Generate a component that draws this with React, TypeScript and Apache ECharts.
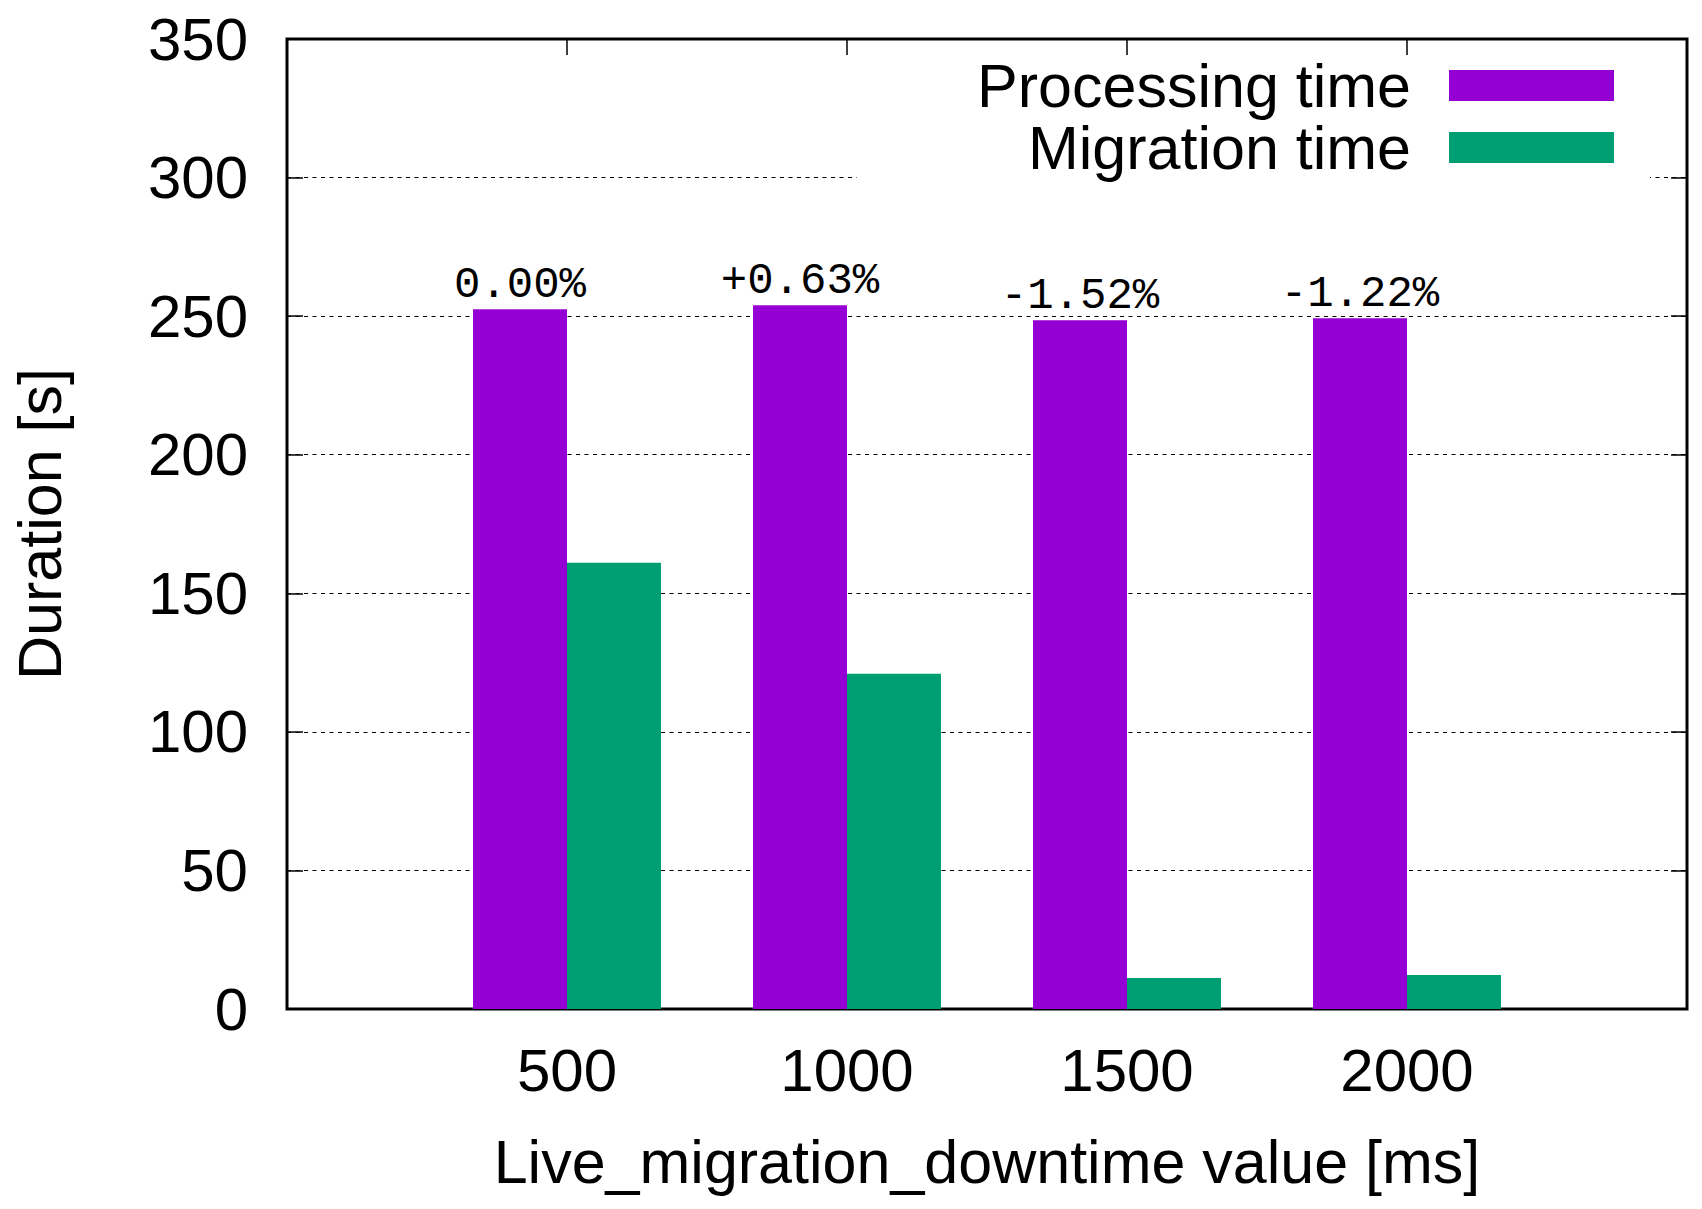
import React, { useEffect, useRef } from "react";
import * as echarts from "echarts";

const downtimeValues = [500, 1000, 1500, 2000];
const xTickValues = [500, 1000, 1500, 2000];
const processingTime = [252.5, 253.9, 248.5, 249.2];
const migrationTime = [161.0, 121.0, 11.2, 12.3];
const changeLabels = ["0.00%", "+0.63%", "-1.52%", "-1.22%"];
const seriesNames = ["Processing time", "Migration time"];
const seriesColors = ["#9400D3", "#009E73"];
const xAxisTitle = "Live_migration_downtime value [ms]";
const yAxisTitle = "Duration [s]";

const SANS = "'Liberation Sans', Arial, Helvetica, sans-serif";
const MONO = "'Liberation Mono', 'DejaVu Sans Mono', monospace";

export default function App() {
  const ref = useRef<HTMLDivElement>(null);

  useEffect(() => {
    if (!ref.current) return;
    const chart = echarts.init(ref.current, null, { renderer: "svg" });

    const tickStyle = { color: "#000", width: 1.5 };
    const hiddenLine = { show: false, onZero: false };

    const option: any = {
      animation: false,
      backgroundColor: "#fff",
      textStyle: { fontFamily: SANS },
      grid: {
        left: 287,
        right: 15,
        top: 39,
        bottom: 200,
        show: true,
        borderColor: "#000",
        borderWidth: 3,
        backgroundColor: "transparent",
      },
      legend: {
        orient: "vertical",
        align: "right",
        right: 52,
        top: 55,
        padding: [0, 36, 8, 120],
        backgroundColor: "#fff",
        itemWidth: 165,
        itemHeight: 31,
        itemGap: 1,
        icon: "rect",
        selectedMode: false,
        data: seriesNames,
        textStyle: {
          fontFamily: SANS,
          fontSize: 61,
          lineHeight: 60,
          color: "#000",
          padding: [0, 33, 0, 0],
        },
      },
      xAxis: [
        {
          type: "value",
          position: "bottom",
          min: 0,
          max: 2500,
          interval: 500,
          name: xAxisTitle,
          nameLocation: "middle",
          nameGap: 123,
          nameTextStyle: { fontFamily: SANS, fontSize: 61, color: "#000", lineHeight: 60 },
          axisLine: hiddenLine,
          axisTick: { show: true, inside: true, length: 16, lineStyle: tickStyle, customValues: xTickValues },
          axisLabel: {
            show: true,
            margin: 31,
            fontFamily: SANS,
            fontSize: 60,
            color: "#000",
            customValues: xTickValues,
            formatter: (v: number) => (xTickValues.indexOf(v) >= 0 ? String(v) : ""),
          },
          splitLine: { show: false },
        },
        {
          type: "value",
          position: "top",
          min: 0,
          max: 2500,
          interval: 500,
          axisLine: hiddenLine,
          axisTick: { show: true, inside: true, length: 16, lineStyle: tickStyle, customValues: xTickValues },
          axisLabel: { show: false },
          splitLine: { show: false },
        },
      ],
      yAxis: [
        {
          type: "value",
          position: "left",
          min: 0,
          max: 350,
          interval: 50,
          name: yAxisTitle,
          nameLocation: "middle",
          nameRotate: 90,
          nameGap: 217,
          nameTextStyle: { fontFamily: SANS, fontSize: 61, color: "#000", lineHeight: 60 },
          axisLine: hiddenLine,
          axisTick: { show: true, inside: true, length: 16, lineStyle: tickStyle },
          axisLabel: { show: true, margin: 39, fontFamily: SANS, fontSize: 60, color: "#000" },
          splitLine: {
            show: true,
            lineStyle: { color: "#000", width: 1, type: [4, 4.5] },
          },
        },
        {
          type: "value",
          position: "right",
          min: 0,
          max: 350,
          interval: 50,
          axisLine: hiddenLine,
          axisTick: { show: true, inside: true, length: 16, lineStyle: tickStyle },
          axisLabel: { show: false },
          splitLine: { show: false },
        },
      ],
      series: [
        {
          name: seriesNames[0],
          type: "bar",
          xAxisIndex: 0,
          yAxisIndex: 0,
          barWidth: 94,
          barGap: "0%",
          itemStyle: { color: seriesColors[0] },
          data: downtimeValues.map((x, i) => [x, processingTime[i]]),
          label: {
            show: true,
            position: "top",
            distance: 2,
            fontFamily: MONO,
            fontSize: 44,
            color: "#000",
            formatter: (p: any) => changeLabels[p.dataIndex],
          },
        },
        {
          name: seriesNames[1],
          type: "bar",
          xAxisIndex: 0,
          yAxisIndex: 0,
          barWidth: 94,
          barGap: "0%",
          itemStyle: { color: seriesColors[1] },
          data: downtimeValues.map((x, i) => [x, migrationTime[i]]),
        },
      ],
    };

    chart.setOption(option);
    return () => chart.dispose();
  }, []);

  return (
    <div
      ref={ref}
      style={{ position: "fixed", left: 0, top: 0, width: 1702, height: 1209, background: "#fff" }}
    />
  );
}
